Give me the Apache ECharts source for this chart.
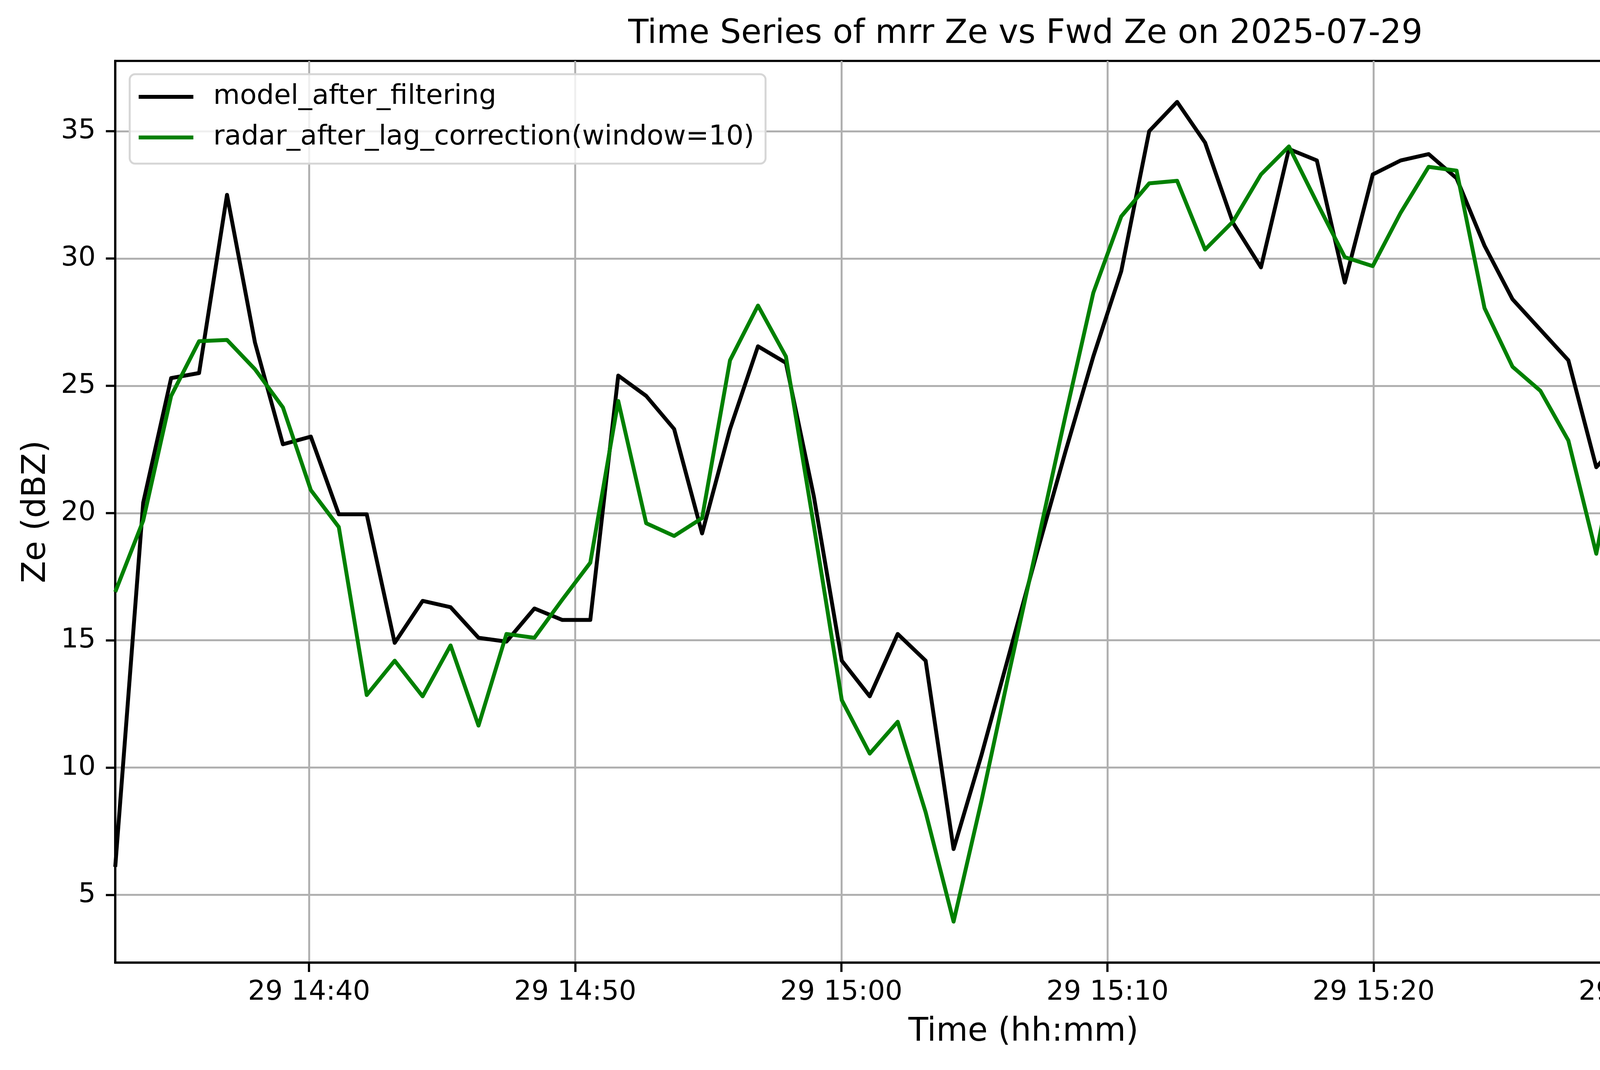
<!DOCTYPE html>
<html>
<head>
<meta charset="utf-8">
<script src="https://cdn.jsdelivr.net/npm/echarts@6/dist/echarts.min.js"></script>
<style>
    html, body { margin: 0; padding: 0; background: #fff; }
    #chart { width: 5088px; height: 2740px; }
</style>
</head>
<body>
<div id="chart"></div>
<script>
// sample times (local clock, 2025-07-29)
var times = [
    "14:32:43", "14:33:46", "14:34:49", "14:35:52", "14:36:55", "14:37:58",
    "14:39:01", "14:40:04", "14:41:07", "14:42:10", "14:43:13", "14:44:16",
    "14:45:19", "14:46:22", "14:47:25", "14:48:28", "14:49:31", "14:50:34",
    "14:51:37", "14:52:40", "14:53:43", "14:54:46", "14:55:49", "14:56:52",
    "14:57:55", "14:58:58", "15:00:01", "15:01:04", "15:02:07", "15:03:10",
    "15:04:13", "15:05:16", "15:06:19", "15:07:22", "15:08:25", "15:09:28",
    "15:10:31", "15:11:34", "15:12:37", "15:13:40", "15:14:43", "15:15:46",
    "15:16:49", "15:17:52", "15:18:55", "15:19:58", "15:21:01", "15:22:04",
    "15:23:07", "15:24:10", "15:25:13", "15:26:16", "15:27:19", "15:28:22",
    "15:29:25", "15:30:28", "15:31:31", "15:32:34", "15:33:37", "15:34:40",
    "15:35:43", "15:36:46", "15:37:49", "15:38:52", "15:39:55", "15:40:58",
];

var modelZe = [
    6.1, 20.4, 25.3, 25.5, 32.5, 26.7, 22.7, 23.0, 19.95, 19.95, 14.9,
    16.55, 16.3, 15.1, 14.95, 16.25, 15.8, 15.8, 25.4, 24.6, 23.3, 19.2,
    23.3, 26.55, 25.9, 20.65, 14.2, 12.8, 15.25, 14.2, 6.8,
    10.5, 14.5, 18.5, 22.4, 26.15, 29.5, 35.0, 36.15, 34.55, 31.4, 29.65,
    34.3, 33.85, 29.05, 33.3, 33.85, 34.1, 33.15, 30.5, 28.4, 27.2, 26.0,
    21.8, 23.0, 27.45, 18.15, 14.9, 18.0, 16.65, 17.75, 13.3, 17.5, 19.95, 12.2, 8.3,
];

var radarZe = [
    16.9, 19.7, 24.6, 26.75, 26.8, 25.65, 24.15, 20.9, 19.45, 12.85, 14.2,
    12.8, 14.8, 11.65, 15.25, 15.1, 16.6, 18.05, 24.4, 19.6, 19.1, 19.8,
    26.0, 28.15, 26.15, 19.5, 12.65, 10.55, 11.8, 8.25, 3.95,
    8.7, 13.8, 18.8, 23.8, 28.65, 31.65, 32.95, 33.05, 30.35, 31.45, 33.3,
    34.4, 32.2, 30.05, 29.7, 31.8, 33.6, 33.45, 28.05, 25.75, 24.8, 22.85,
    18.4, 24.1, 24.25, 14.3, 15.1, 16.7, 14.5, 17.2, 12.9, 13.55, 12.05, 10.2, 7.1,
];

var xTicks = ["14:40", "14:50", "15:00", "15:10", "15:20", "15:30", "15:40"];
var yTicks = [5, 10, 15, 20, 25, 30, 35];

var day = "2025-07-29";
var font = "DejaVu Sans";

function toMs(hms) {
    return new Date(day + "T" + (hms.length === 5 ? hms + ":00" : hms)).getTime();
}
function pad(n) {
    return n < 10 ? "0" + n : "" + n;
}

var modelData = times.map((t, i) => [toMs(t), modelZe[i]]);
var radarData = times.map((t, i) => [toMs(t), radarZe[i]]);
var xTickValues = xTicks.map(toMs);

// matplotlib style 5% margin on y
var allZe = modelZe.concat(radarZe);
var yLo = Math.min.apply(null, allZe);
var yHi = Math.max.apply(null, allZe);
var yPad = (yHi - yLo) * 0.05;

var option = {
    animation: false,
    backgroundColor: "#ffffff",
    title: {
        text: "Time Series of mrr Ze vs Fwd Ze on 2025-07-29",
        left: 2620,
        textAlign: "center",
        top: 40,
        textStyle: {
            fontFamily: font,
            fontSize: 85,
            fontWeight: "normal",
            color: "#000",
        },
    },
    legend: {
        orient: "vertical",
        left: 332,
        top: 190,
        padding: [18, 29, 27, 23],
        itemGap: 24,
        itemWidth: 140,
        itemHeight: 10,
        icon: "rect",
        backgroundColor: "rgba(255,255,255,0.8)",
        borderColor: "#d6d6d6",
        borderWidth: 5,
        borderRadius: 14,
        textStyle: {
            fontFamily: font,
            fontSize: 70,
            lineHeight: 80,
            color: "#000",
            padding: [0, 0, 0, 46],
        },
    },
    grid: {
        left: 295,
        right: 143,
        top: 156,
        bottom: 275,
        show: true,
        borderColor: "#000",
        borderWidth: 5.6,
        backgroundColor: "transparent",
    },
    xAxis: {
        type: "value",
        min: modelData[0][0],
        max: modelData[modelData.length - 1][0],
        name: "Time (hh:mm)",
        nameLocation: "middle",
        nameGap: 137,
        nameTextStyle: { fontFamily: font, fontSize: 83, color: "#000" },
        axisLine: { show: true, lineStyle: { color: "#000", width: 5.6 } },
        axisTick: {
            show: true,
            length: 24,
            customValues: xTickValues,
            lineStyle: { color: "#000", width: 5.6 },
        },
        axisLabel: {
            customValues: xTickValues,
            margin: 42,
            fontFamily: font,
            fontSize: 70,
            color: "#000",
            hideOverlap: false,
            formatter: function (v) {
                var d = new Date(v);
                return d.getDate() + " " + pad(d.getHours()) + ":" + pad(d.getMinutes());
            },
        },
        splitLine: { show: true, lineStyle: { color: "#b0b0b0", width: 5 } },
    },
    yAxis: {
        type: "value",
        min: yLo - yPad,
        max: yHi + yPad,
        name: "Ze (dBZ)",
        nameLocation: "middle",
        nameGap: 160,
        nameTextStyle: { fontFamily: font, fontSize: 83, color: "#000" },
        axisLine: { show: true, lineStyle: { color: "#000", width: 5.6 } },
        axisTick: {
            show: true,
            length: 24,
            customValues: yTicks,
            lineStyle: { color: "#000", width: 5.6 },
        },
        axisLabel: {
            customValues: yTicks,
            margin: 50,
            fontFamily: font,
            fontSize: 70,
            color: "#000",
        },
        splitLine: { show: true, lineStyle: { color: "#b0b0b0", width: 5 } },
    },
    series: [
        {
            name: "model_after_filtering",
            type: "line",
            data: modelData,
            showSymbol: false,
            color: "#000000",
            lineStyle: { width: 10, color: "#000000", join: "round" },
        },
        {
            name: "radar_after_lag_correction(window=10)",
            type: "line",
            data: radarData,
            showSymbol: false,
            color: "#008000",
            lineStyle: { width: 10, color: "#008000", join: "round" },
        },
    ],
};

var myChart = echarts.init(document.getElementById("chart"));
myChart.setOption(option);
</script>
</body>
</html>
